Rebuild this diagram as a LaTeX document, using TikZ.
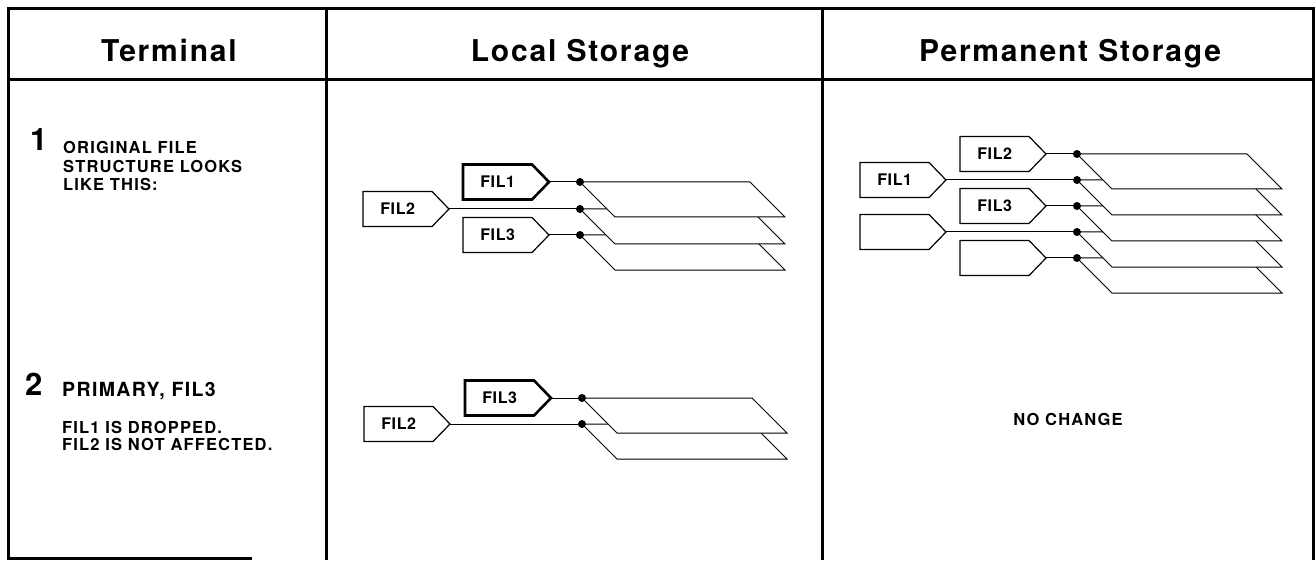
\documentclass[tikz,border=0pt]{standalone}
\usepackage{fontspec}
\setmainfont{TeX Gyre Heros}
\newfontfamily\hdfont[LetterSpace=6]{TeX Gyre Heros}
\newfontfamily\numfont{TeX Gyre Heros}
\newfontfamily\smfont[LetterSpace=7]{TeX Gyre Heros}
\newfontfamily\lbfont[LetterSpace=4]{TeX Gyre Heros}
\tikzset{
  frame/.style={line width=3pt, line cap=rect},
  hd/.style={font=\hdfont\bfseries\fontsize{30}{36}\selectfont, anchor=base, inner sep=0pt},
  num/.style={font=\numfont\bfseries\fontsize{31}{36}\selectfont, anchor=base west, inner sep=0pt},
  sm/.style={font=\smfont\bfseries\fontsize{16.5}{19}\selectfont, anchor=base west, inner sep=0pt},
  smbig/.style={font=\smfont\bfseries\fontsize{19.5}{23}\selectfont, anchor=base west, inner sep=0pt},
  flabel/.style={font=\lbfont\bfseries\fontsize{16}{19}\selectfont, rectangle, minimum width=69pt, minimum height=35pt, inner sep=0pt, anchor=west},
  thinbox/.style={line width=1.2pt, line join=miter, fill=white},
  thickbox/.style={line width=2.6pt, line join=miter, fill=white},
  conn/.style={line width=1pt},
  sheet/.style={line width=1pt, fill=white, line join=miter},
  dotn/.style={circle, fill=black, inner sep=0pt, minimum size=8pt}
}
% #1 name, #2 left x, #3 centre y, #4 label, #5 style
\newcommand{\filebox}[5]{%
  \draw[#5] (#2,#3-17.5) -- (#2+69,#3-17.5) -- (#2+86,#3) -- (#2+69,#3+17.5) -- (#2,#3+17.5) -- cycle;
  \coordinate (#1-tip) at (#2+86,#3);
  \node[flabel] (#1) at (#2,#3) {#4};
}
\newcommand{\sheetat}[1]{%
  \draw[sheet] (#1) -- ++(170,0) -- ++(35,35) -- ++(-170,0) -- cycle;
}
\begin{document}
\begin{tikzpicture}[x=1pt,y=-1pt]
\useasboundingbox (0,0) rectangle (1316,561);

% frame
\draw[frame] (8,9) -- (1313,9);
\draw[frame] (8,80) -- (1313,80);
\draw[frame] (8,9) -- (8,558);
\draw[frame] (326,9) -- (326,558);
\draw[frame] (822,9) -- (822,558);
\draw[frame] (1313,9) -- (1313,558);
\draw[frame] (8,558) -- (250,558);

% headers
\node[hd] (hterm) at (169,62) {Terminal};
\node[hd] (hloc) at (580,62) {Local Storage};
\node[hd] (hperm) at (1070,62) {Permanent Storage};

% terminal texts
\node[num] (n1) at (30,151) {1};
\node[sm] (t1a) at (63,154) {ORIGINAL FILE};
\node[sm] (t1b) at (63,173) {STRUCTURE LOOKS};
\node[sm] (t1c) at (63,191) {LIKE THIS:};
\node[num] (n2) at (25,395) {2};
\node[smbig] (t2a) at (62,396) {PRIMARY, FIL3};
\node[sm] (t2b) at (62,433) {FIL1 IS DROPPED.};
\node[sm] (t2c) at (62,450) {FIL2 IS NOT AFFECTED.};

% ---------- Local storage, step 1 ----------
\coordinate (la1) at (580,182);
\coordinate (la2) at (580,209);
\coordinate (la3) at (580,235);
\sheetat{la3}
\sheetat{la2}
\sheetat{la1}
\filebox{lfil1}{463}{182}{FIL1}{thickbox}
\filebox{lfil2}{363}{209}{FIL2}{thinbox}
\filebox{lfil3}{463}{235}{FIL3}{thinbox}
\draw[conn] (lfil1-tip) -- (la1);
\draw[conn] (lfil2-tip) -- (la2);
\draw[conn] (lfil3-tip) -- (la3);
\node[dotn] (dla1) at (la1) {};
\node[dotn] (dla2) at (la2) {};
\node[dotn] (dla3) at (la3) {};

% ---------- Local storage, step 2 ----------
\coordinate (lb1) at (582,398);
\coordinate (lb2) at (582,424);
\sheetat{lb2}
\sheetat{lb1}
\filebox{mfil3}{465}{398}{FIL3}{thickbox}
\filebox{mfil2}{364}{424}{FIL2}{thinbox}
\draw[conn] (mfil3-tip) -- (lb1);
\draw[conn] (mfil2-tip) -- (lb2);
\node[dotn] (dlb1) at (lb1) {};
\node[dotn] (dlb2) at (lb2) {};

% ---------- Permanent storage ----------
\coordinate (p1) at (1077,154);
\coordinate (p2) at (1077,180);
\coordinate (p3) at (1077,206);
\coordinate (p4) at (1077,232);
\coordinate (p5) at (1077,258);
\sheetat{p5}
\sheetat{p4}
\sheetat{p3}
\sheetat{p2}
\sheetat{p1}
\filebox{pfil2}{960}{154}{FIL2}{thinbox}
\filebox{pfil1}{860}{180}{FIL1}{thinbox}
\filebox{pfil3}{960}{206}{FIL3}{thinbox}
\filebox{pfil4}{860}{232}{}{thinbox}
\filebox{pfil5}{960}{258}{}{thinbox}
\draw[conn] (pfil2-tip) -- (p1);
\draw[conn] (pfil1-tip) -- (p2);
\draw[conn] (pfil3-tip) -- (p3);
\draw[conn] (pfil4-tip) -- (p4);
\draw[conn] (pfil5-tip) -- (p5);
\node[dotn] (dp1) at (p1) {};
\node[dotn] (dp2) at (p2) {};
\node[dotn] (dp3) at (p3) {};
\node[dotn] (dp4) at (p4) {};
\node[dotn] (dp5) at (p5) {};

\node[sm, anchor=base] (nochange) at (1068,425) {NO CHANGE};
\end{tikzpicture}
\end{document}
